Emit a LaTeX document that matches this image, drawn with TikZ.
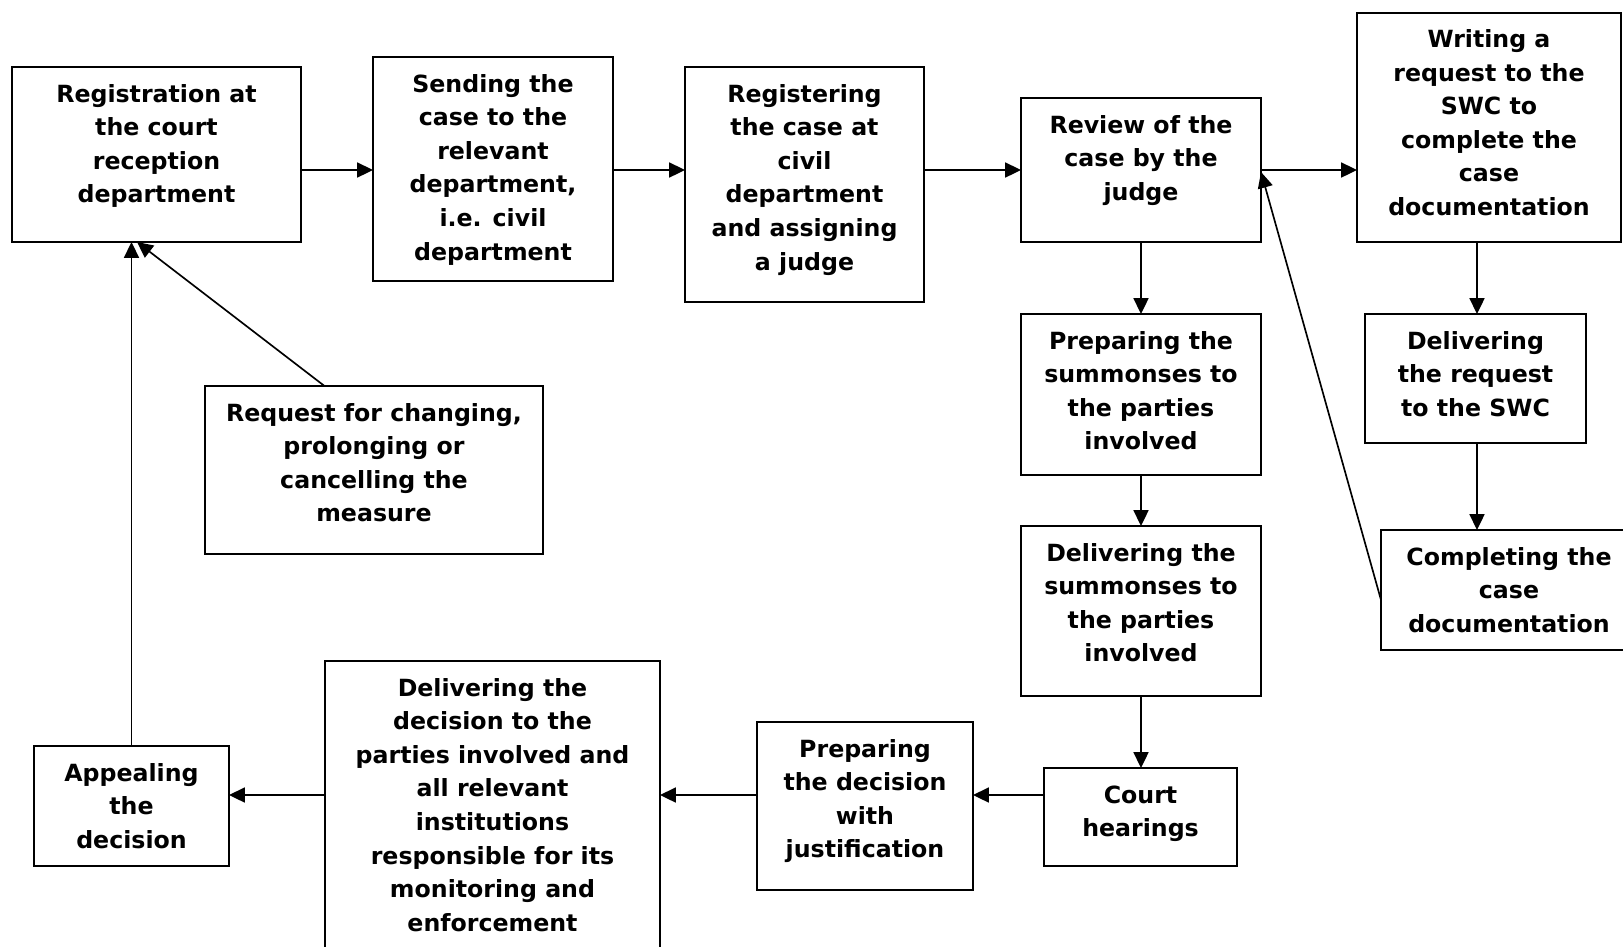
\documentclass[tikz,border=0pt]{standalone}
\usepackage{fontspec}
\setmainfont{DejaVu Sans}
\usetikzlibrary{arrows.meta,calc}
\newlength\pxu \setlength\pxu{0.6pt}
\newcommand{\tbx}[3]{\parbox[c][#2\pxu][t]{#1\pxu}{\centering\rule{0pt}{35\pxu}#3\par}}
\begin{document}
\begin{tikzpicture}[x=0.6pt,y=-0.6pt,
  bx/.style={draw, line width=1.2pt, inner sep=0pt, outer sep=0pt, anchor=north west,
    font=\fontsize{14.2pt}{20.16pt}\selectfont\bfseries},
  arr/.style={-{Triangle[length=9.5pt,width=9pt]}, line width=1pt}]
\useasboundingbox (0,0) rectangle (1623,946);
\clip (0,0) rectangle (1623,946);
\node[bx] (A) at (12,67) {\tbx{289}{175}{Registration at\\the court\\reception\\department}};
\node[bx] (B) at (373,57) {\tbx{240}{224}{Sending the\\case to the\\relevant\\department,\\i.e. civil\\department}};
\node[bx] (C) at (685,67) {\tbx{239}{235}{Registering\\the case at\\civil\\department\\and assigning\\a judge}};
\node[bx] (D) at (1021,98) {\tbx{240}{144}{Review of the\\case by the\\judge}};
\node[bx] (E) at (1357,12.5) {\tbx{264}{229.5}{Writing a\\request to the\\SWC to\\complete the\\case\\documentation}};
\node[bx] (F) at (1021,314) {\tbx{240}{161}{Preparing the\\summonses to\\the parties\\involved}};
\node[bx] (G) at (1021,526) {\tbx{240}{170}{Delivering the\\summonses to\\the parties\\involved}};
\node[bx] (H) at (1365,314) {\tbx{221}{129}{Delivering\\the request\\to the SWC}};
\node[bx] (I) at (1381,530) {\tbx{256}{120}{Completing the\\case\\documentation}};
\node[bx] (K) at (1044,768) {\tbx{193}{98}{Court\\hearings}};
\node[bx] (P) at (757,722) {\tbx{216}{168}{Preparing\\the decision\\with\\justification}};
\node[bx] (Q) at (325,661) {\tbx{335}{300}{Delivering the\\decision to the\\parties involved and\\all relevant\\institutions\\responsible for its\\monitoring and\\enforcement}};
\node[bx] (L) at (34,746) {\tbx{195}{120}{Appealing\\the\\decision}};
\node[bx] (R) at (205,386) {\tbx{338}{168}{Request for changing,\\prolonging or\\cancelling the\\measure}};
% connectors
\draw[arr] (A.east |- 0,170) -- (B.west |- 0,170);
\draw[arr] (B.east |- 0,170) -- (C.west |- 0,170);
\draw[arr] (C.east |- 0,170) -- (D.west |- 0,170);
\draw[arr] (D.east |- 0,170) -- (E.west |- 0,170);
\draw[arr] (D.south) -- (F.north);
\draw[arr] (F.south) -- (G.north);
\draw[arr] (G.south) -- (G.south |- K.north);
\draw[arr] (E.south -| 1477,0) -- (H.north -| 1477,0);
\draw[arr] (H.south -| 1477,0) -- (I.north -| 1477,0);
\draw[arr] (I.west |- 0,600) -- (D.east |- 0,172);
\draw[arr] (K.west |- 0,795) -- (P.east |- 0,795);
\draw[arr] (P.west |- 0,795) -- (Q.east |- 0,795);
\draw[arr] (Q.west |- 0,795) -- (L.east |- 0,795);
\draw[arr] (L.north) -- (L.north |- A.south);
\draw[arr] ($(R.north west)+(119.5,0)$) -- ($(A.south west)+(125,0)$);
\end{tikzpicture}
\end{document}
